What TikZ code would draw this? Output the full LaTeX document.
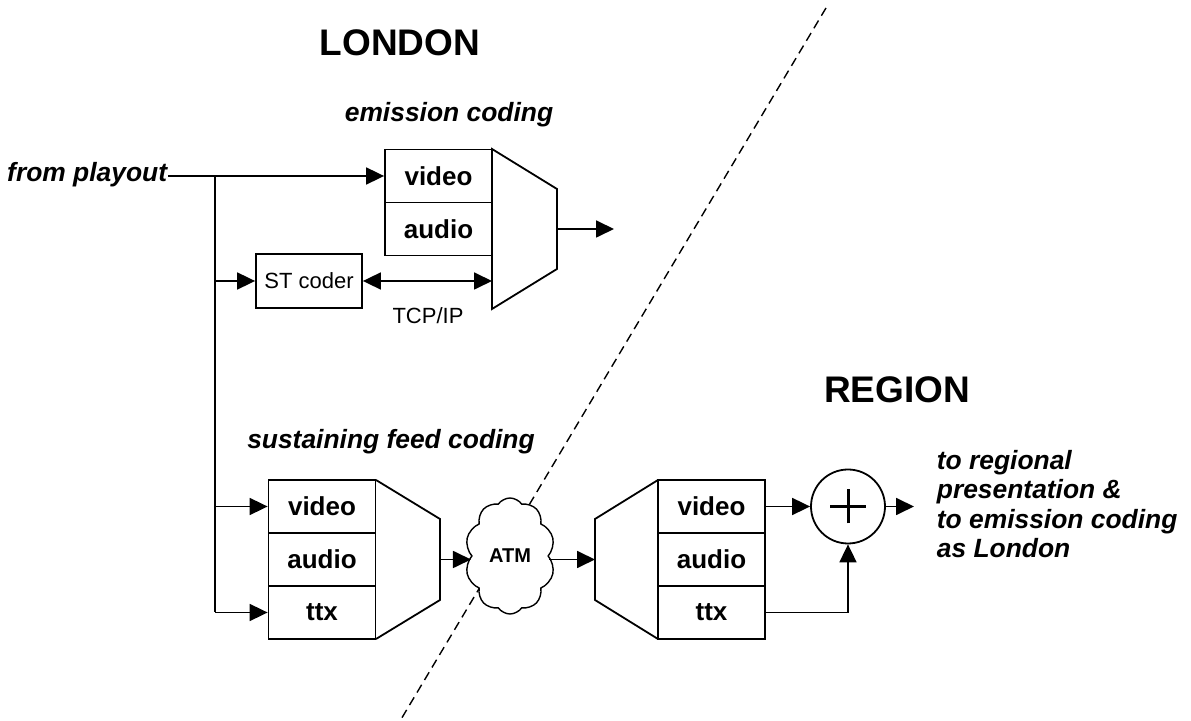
\documentclass[tikz,border=0pt]{standalone}
\usepackage{fontspec}
\setmainfont{Liberation Sans}
\usetikzlibrary{arrows.meta,shapes.symbols}
\begin{document}
\begin{tikzpicture}[x=0.5pt,y=-0.5pt, line width=0.9pt,
  arr/.style={-{Triangle[length=9pt,width=8.5pt]}},
  darr/.style={{Triangle[length=9pt,width=8.5pt]}-{Triangle[length=9pt,width=8.5pt]}},
  cell/.style={draw, minimum width=53.5pt, minimum height=26.5pt, inner sep=0pt,
    font=\fontsize{13}{15}\selectfont\bfseries},
  lab/.style={font=\fontsize{13.2}{14.7}\selectfont\bfseries\itshape, inner sep=0pt},
  big/.style={font=\fontsize{18.5}{22}\selectfont\bfseries, inner sep=0pt},
  small/.style={font=\fontsize{11}{13}\selectfont, inner sep=0pt}]
\useasboundingbox (0,0) rectangle (1191,721);

% dividing line
\coordinate (d1) at (826,8);
\coordinate (d2) at (400,721);
\draw[line width=0.7pt, dash pattern=on 4.5pt off 2.8pt] (d1) -- (d2);

% titles
\node[big] (london) at (400,43) {LONDON};
\node[big] (region) at (897,390) {REGION};
\node[lab] (emis) at (449,115) {emission coding};
\node[lab] (sust) at (391,442) {sustaining feed coding};

% emission coding block
\node[cell] (ev) at (438.5,176) {video};
\node[cell] (ea) at (438.5,229) {audio};
\coordinate (et1) at (492,149);
\coordinate (et2) at (557,189);
\coordinate (et3) at (557,269);
\coordinate (et4) at (492,309);
\draw (et1) -- (et2) -- (et3) -- (et4) -- cycle;
\coordinate (emid) at (557,229);
\coordinate (eout) at (614,229);
\draw[arr] (emid) -- (eout);

% from playout and bus
\node[lab, anchor=east] (fp) at (168,175) {from playout};
\coordinate (b0) at (215,176);
\coordinate (b1) at (215,281);
\coordinate (b2) at (215,506.5);
\coordinate (b3) at (215,612.5);
\draw[arr] (fp.east |- ev.west) -- (ev.west);
\draw (b0) -- (b3);

% ST coder
\node[draw, minimum width=53pt, minimum height=27pt, small] (st) at (309,281) {ST coder};
\draw[arr] (b1) -- (st.west);
\coordinate (tcpend) at (492,281);
\draw[darr] (st.east) -- (tcpend);
\node[small] (tcp) at (428,316) {TCP/IP};

% sustaining feed coding block
\node[cell] (sv) at (322,506.5) {video};
\node[cell] (sa) at (322,559.5) {audio};
\node[cell] (sx) at (322,612.5) {ttx};
\coordinate (st1) at (376,480);
\coordinate (st2) at (440,519);
\coordinate (st3) at (440,600);
\coordinate (st4) at (376,639);
\draw (st1) -- (st2) -- (st3) -- (st4);
\draw[arr] (b2) -- (sv.west);
\draw[arr] (b3) -- (sx.west);
\coordinate (smid) at (440,559.5);

% ATM cloud
\node[cloud, draw, fill=white, cloud puffs=10, cloud puff arc=110, aspect=0.78,
  minimum width=45pt, minimum height=58pt, inner sep=0pt, line width=0.7pt,
  font=\fontsize{10}{12}\selectfont\bfseries] (atm) at (510,556) {ATM};
\draw[arr] (smid) -- (smid -| atm.west);

% region block
\node[cell] (rv) at (711.5,506.5) {video};
\node[cell] (ra) at (711.5,559.5) {audio};
\node[cell] (rx) at (711.5,612.5) {ttx};
\coordinate (rt1) at (658,480);
\coordinate (rt2) at (595,519);
\coordinate (rt3) at (595,600);
\coordinate (rt4) at (658,639);
\draw (rt1) -- (rt2) -- (rt3) -- (rt4);
\coordinate (rmid) at (595,559.5);
\draw[arr] (atm.east |- rmid) -- (rmid);

% adder
\node[draw, circle, minimum size=37pt, inner sep=0pt] (sum) at (848,506.5) {};
\draw[line width=1.5pt] ([xshift=-9pt]sum.center) -- ([xshift=9pt]sum.center);
\draw[line width=1.5pt] ([yshift=-8.5pt]sum.center) -- ([yshift=8.5pt]sum.center);
\draw[arr] (rv.east) -- (sum.west);
\draw[arr] (rx.east) -| (sum.south);
\coordinate (out2) at (914,506.5);
\draw[arr] (sum.east) -- (out2);

\node[lab, anchor=west, align=left] (dest) at (936,504)
  {to regional\\presentation \&\\to emission coding\\as London};
\end{tikzpicture}
\end{document}
